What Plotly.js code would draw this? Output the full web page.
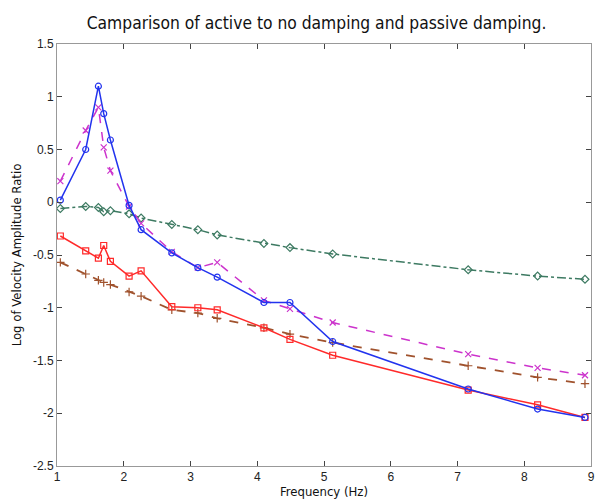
<!DOCTYPE html>
<html><head><meta charset="utf-8">
<script src="https://cdn.plot.ly/plotly-3.0.1.min.js"></script>
<style>body{margin:0;background:#fff}#c{width:595px;height:504px}
.gtitle,.xtitle,.ytitle{font-stretch:condensed !important}</style>
</head><body><div id="c"></div>
<script>
const freq = [1.05,1.43,1.62,1.70,1.80,2.08,2.26,2.72,3.11,3.40,4.10,4.49,5.13,7.16,8.20,8.91];
const active1 = [0.02,0.50,1.10,0.84,0.59,-0.03,-0.26,-0.48,-0.62,-0.71,-0.95,-0.95,-1.32,-1.77,-1.96,-2.04];
const active2 = [0.20,0.68,0.90,0.52,0.30,-0.04,-0.20,-0.47,-0.62,-0.57,-0.93,-1.01,-1.14,-1.44,-1.57,-1.64];
const noDamping = [-0.06,-0.04,-0.05,-0.09,-0.08,-0.11,-0.15,-0.21,-0.26,-0.31,-0.39,-0.43,-0.49,-0.64,-0.70,-0.73];
const passive1 = [-0.32,-0.46,-0.53,-0.41,-0.56,-0.70,-0.65,-0.99,-1.00,-1.02,-1.19,-1.30,-1.45,-1.78,-1.92,-2.04];
const passive2 = [-0.57,-0.68,-0.74,-0.76,-0.78,-0.85,-0.89,-1.02,-1.05,-1.10,-1.19,-1.25,-1.33,-1.55,-1.66,-1.72];
const xTicks = [1,2,3,4,5,6,7,8,9];
const yTicks = [1.5,1,0.5,0,-0.5,-1,-1.5,-2,-2.5];

function tr(y, color, dash, sym, w){
  return {x:freq, y:y, type:'scatter', mode:'lines+markers',
    line:{color:color, dash:dash, width:w||1.5},
    marker:{symbol:sym, size:6, color:color, line:{color:color, width:1.2}}};
}
const data = [
  tr(noDamping,'#3d7a62','dashdot','diamond-open',1.5),
  tr(passive2,'#a0522d','dash','cross-thin-open',1.8),
  tr(passive1,'#ff2a2a','solid','square-open',1.5),
  tr(active2,'#cc33cc','dash','x-thin-open',1.5),
  tr(active1,'#2233ee','solid','circle-open',1.5)
];
const cf = 'DejaVu Sans Condensed, DejaVu Sans, sans-serif';
const ax = {showgrid:false, zeroline:false, ticks:'inside', ticklen:5, tickcolor:'#444',
  showline:true, linecolor:'#999', linewidth:1, mirror:'ticks',
  tickfont:{family:'Liberation Sans, Arial, sans-serif', size:12, color:'#222'}};
const layout = {
  width:595, height:504, showlegend:false,
  paper_bgcolor:'#fff', plot_bgcolor:'#fff',
  margin:{l:57, r:4, t:44, b:38},
  title:{text:'Camparison of active to no damping and passive damping.', x:0.532, xanchor:'center', y:0.955, yanchor:'middle',
    font:{family:cf, size:17.3, color:'#111'}},
  xaxis:Object.assign({}, ax, {range:[1,9], tickvals:xTicks, ticktext:xTicks.map(String),
    title:{text:'Frequency (Hz)', standoff:2, font:{family:cf, size:13, color:'#111'}}}),
  yaxis:Object.assign({}, ax, {range:[-2.5,1.5], tickvals:yTicks, ticktext:yTicks.map(String),
    title:{text:'Log of Velocity Amplitude Ratio', standoff:8, font:{family:cf, size:13, color:'#111'}}})
};
Plotly.newPlot('c', data, layout, {staticPlot:true});
</script></body></html>
